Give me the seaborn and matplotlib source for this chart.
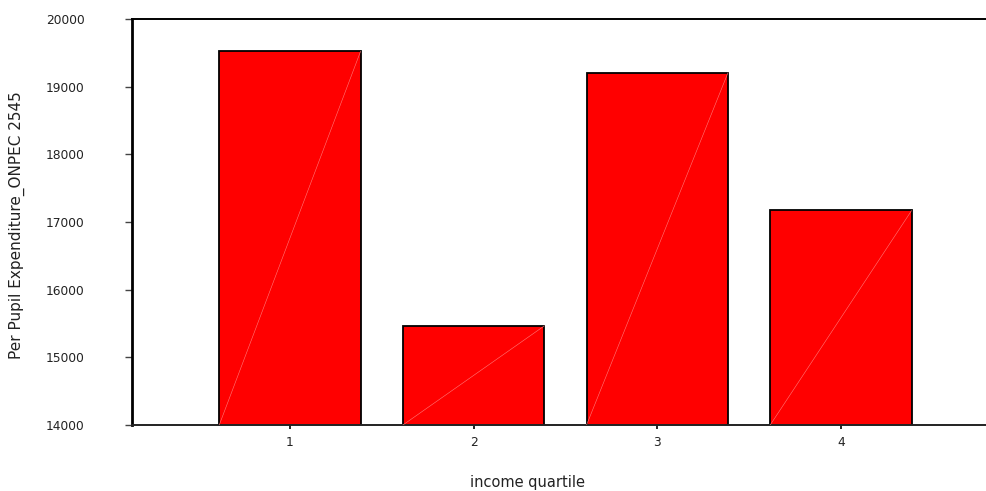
import pandas as pd
import matplotlib
matplotlib.use("Agg")
import matplotlib.pyplot as plt
import seaborn as sns

# values
quartiles = ["1", "2", "3", "4"]
expenditure = [19525, 15465, 19205, 17170]
y_ticks = [14000, 15000, 16000, 17000, 18000, 19000, 20000]

df = pd.DataFrame({"income quartile": quartiles, "expenditure": expenditure})

sns.set_style("white")
plt.rcParams["font.family"] = ["DejaVu Sans"]

fig = plt.figure(figsize=(9.86, 4.91), dpi=100)
ax = fig.add_axes([132 / 986, 66 / 491, 1 - 132 / 986, 406 / 491])

sns.barplot(data=df, x="income quartile", y="expenditure", color="#ff0000",
            saturation=1, width=0.77, edgecolor="black", linewidth=1.3, ax=ax)

# faint diagonal seen on each bar in the original rendering
for p in ax.patches:
    x0, y0 = p.get_x(), p.get_y()
    ax.plot([x0, x0 + p.get_width()], [max(y0, 14000), y0 + p.get_height()],
            color="#ff7a7a", lw=0.4, zorder=3)

ax.set_ylim(14000, 20000)
ax.set_xlim(-0.86, 3.79)
ax.set_yticks(y_ticks)
ax.set_yticklabels([str(t) for t in y_ticks])

ax.spines["right"].set_visible(False)
ax.spines["left"].set_linewidth(2)
ax.spines["left"].set_color("black")
ax.spines["top"].set_linewidth(1.4)
ax.spines["top"].set_color("black")
ax.spines["bottom"].set_linewidth(1.4)
ax.spines["bottom"].set_color("#222222")

ax.tick_params(axis="y", direction="out", length=5, width=1, color="#444444",
               pad=29, labelsize=8.8, labelcolor="#222222", left=True)
ax.tick_params(axis="x", direction="out", length=3, width=1.2, color="black",
               pad=5, labelsize=8.8, labelcolor="#222222", bottom=True)

ax.set_xlabel("")
ax.set_ylabel("")
fig.text(527 / 986, 1 - 482 / 491, "income quartile", ha="center", va="center",
         fontsize=10.5, color="#222222")
fig.text(17 / 986, 1 - 225 / 491, "Per Pupil Expenditure_ONPEC 2545", ha="center",
         va="center", rotation=90, fontsize=11, color="#222222")

fig.savefig("out.png", dpi=100)
